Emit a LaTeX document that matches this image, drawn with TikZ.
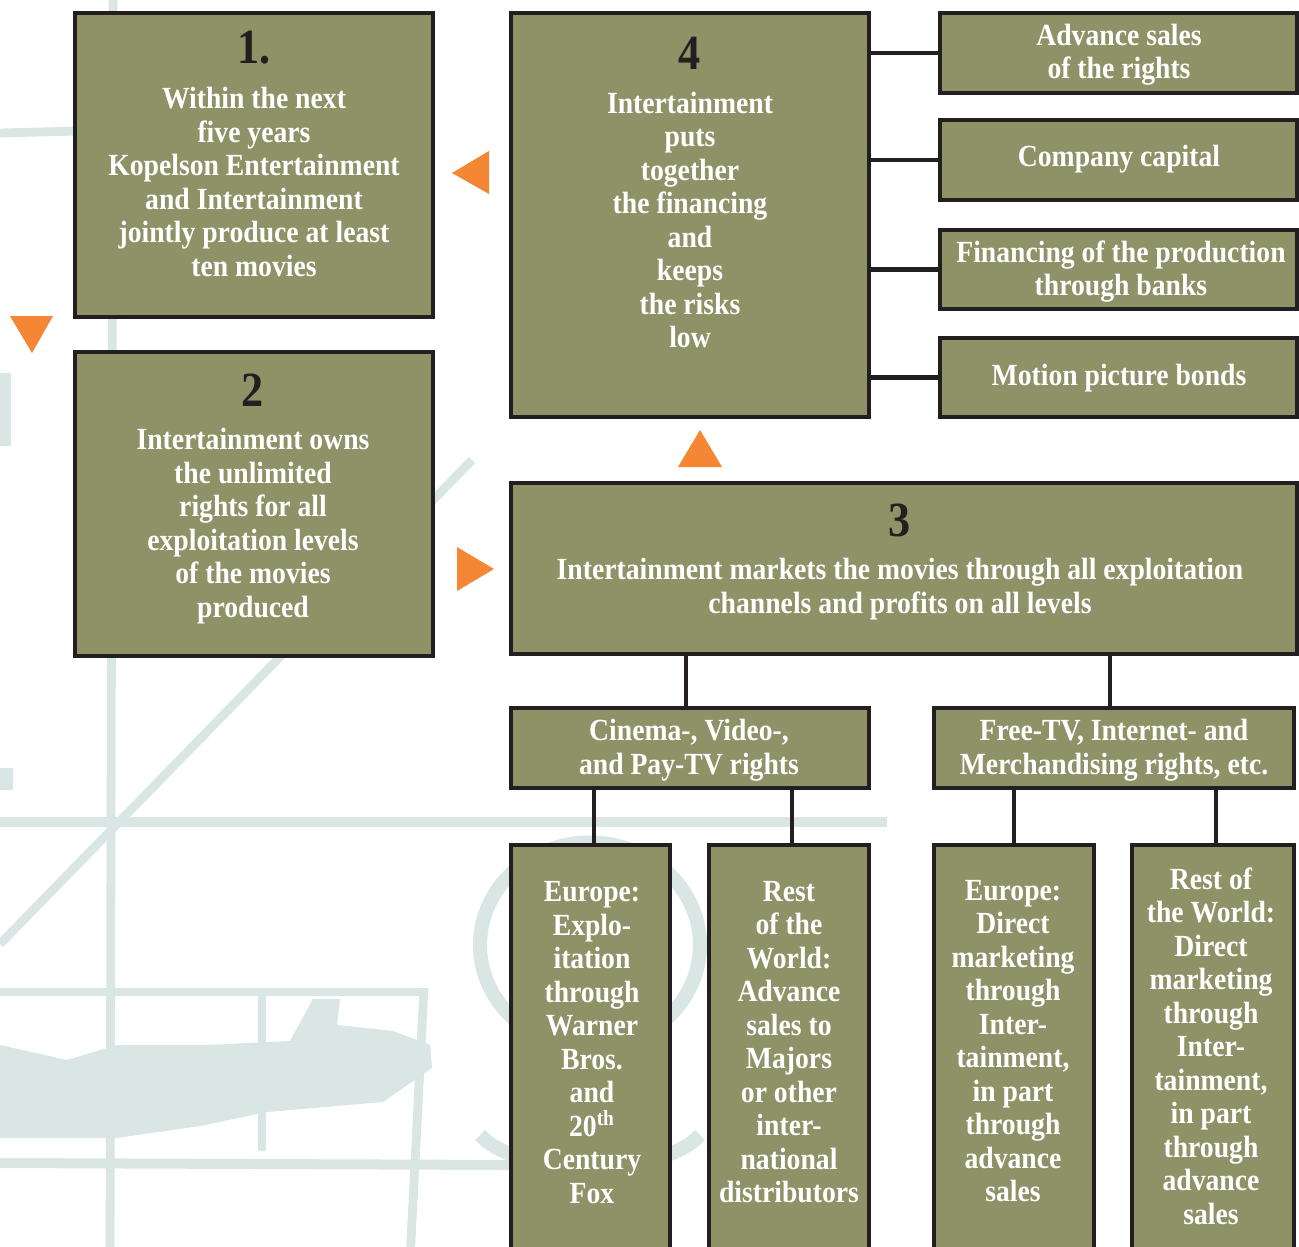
\documentclass[tikz,border=0pt]{standalone}
\usepackage{fontspec}
\setmainfont{Liberation Serif}[FakeStretch=0.9]
\definecolor{boxolive}{HTML}{8D9267}
\definecolor{boxline}{HTML}{231F20}
\definecolor{triorange}{HTML}{F58634}
\definecolor{sketchcol}{HTML}{D9E6E3}
\tikzset{
  box/.style={draw=boxline, fill=boxolive, line width=2.3pt, inner sep=0pt},
  txt/.style={text=white, font=\bfseries\fontsize{17.5}{19.05}\selectfont, align=center, inner sep=0pt},
  num/.style={text=boxline, font=\bfseries\fontsize{28}{28}\selectfont, inner sep=0pt},
  link/.style={draw=boxline, line width=2.4pt},
  tri/.style={fill=triorange, draw=none},
  sketch/.style={draw=sketchcol, line width=5pt},
}
\newcommand\bx[5]{\node[box, minimum width={(#4-#2)*0.02cm}, minimum height={(#5-#3)*0.02cm}] (#1) at ({(#2+#4)/2},{(#3+#5)/2}) {};}
\begin{document}
\begin{tikzpicture}[x=0.02cm, y=-0.02cm]
\useasboundingbox (0,0) rectangle (1299,1247);
\clip (0,0) rectangle (1299,1247);
\fill[white] (0,0) rectangle (1299,1247);
% background sketch
\begin{scope}[sketch]
  \draw (113,-5) -- (110,1260);
  \draw (0,133) -- (80,131);
  \draw[line width=5.7pt] (0,822) -- (887,822);
  \draw (0,944) -- (472,460);
  \draw (0,992) -- (428,992);
  \draw (262,992) -- (262,1151);
  \draw (424,988) -- (410,1260);
  \draw[line width=5.7pt] (0,1163) -- (510,1165);
  \draw[line width=8pt] (590,945) ellipse [x radius=2.2cm, y radius=2.05cm];
  \draw[line width=8pt] (480,1135) .. controls (520,1178) and (660,1178) .. (700,1135);
\end{scope}
\fill[sketchcol] (0,1045) -- (67,1060) -- (117,1045) -- (207,1045) -- (290,1041) -- (313,999) -- (340,999) -- (337,1025) -- (393,1031) -- (430,1045) -- (432,1068) -- (383,1102) -- (267,1112) -- (200,1126) -- (117,1138) -- (0,1138) -- cycle;
\fill[sketchcol] (0,373) rectangle (11,446);
\fill[sketchcol] (0,768) rectangle (13,790);
% boxes
\bx{b1}{75}{13}{433}{317}
\bx{b2}{75}{352}{433}{656}
\bx{b4}{511}{13}{869}{417}
\bx{b3}{511}{483}{1297}{654}
\bx{ra}{940}{13}{1297}{93}
\bx{rb}{940}{120}{1297}{200}
\bx{rc}{940}{230}{1297}{309}
\bx{rd}{940}{338}{1297}{417}
\bx{cin}{511}{708}{869}{788}
\bx{free}{934}{708}{1294}{788}
\bx{e1}{511}{845}{670}{1275}
\bx{e2}{709}{845}{869}{1275}
\bx{e3}{934}{845}{1094}{1275}
\bx{e4}{1132}{845}{1294}{1275}
% connectors
\foreach \r in {ra,rb,rc,rd} \draw[link] (\r.west) -- (\r.west -| b4.east);
\draw[link] ([xshift=-0.08cm]cin.north) -- ([xshift=-0.08cm]cin.north |- b3.south);
\draw[link] ([xshift=-0.08cm]free.north) -- ([xshift=-0.08cm]free.north |- b3.south);
\draw[link] ([xshift=0.07cm]e1.north) -- ([xshift=0.07cm]e1.north |- cin.south);
\draw[link] ([xshift=0.06cm]e2.north) -- ([xshift=0.06cm]e2.north |- cin.south);
\draw[link] (e3.north) -- (e3.north |- free.south);
\draw[link] ([xshift=0.06cm]e4.north) -- ([xshift=0.06cm]e4.north |- free.south);
% triangles
\fill[tri] (452,173) -- (489,151) -- (489,194) -- cycle;
\fill[tri] (10,316) -- (53,316) -- (32,353) -- cycle;
\fill[tri] (700,430) -- (722,467) -- (678,467) -- cycle;
\fill[tri] (457,547) -- (494,569) -- (457,591) -- cycle;
% numbers
\node[num] (n1) at (254,48) {1.};
\node[num] (n2) at (253,390) {2};
\node[num] (n4) at (690,53) {4};
\node[num] (n3) at (900,520) {3};
% texts
\node[txt] (t1) at (254,182) {Within the next\\five years\\Kopelson Entertainment\\and Intertainment\\jointly produce at least\\ten movies};
\node[txt] (t2) at (253,526) {Intertainment owns\\the unlimited\\rights for all\\exploitation levels\\of the movies\\produced};
\node[txt] (t4) at (690,220) {Intertainment\\puts\\together\\the financing\\and\\keeps\\the risks\\low};
\node[txt] (t3) at (900,589) {Intertainment markets the movies through all exploitation\\channels and profits on all levels};
\node[txt] (ta) at (1119,54.5) {Advance sales\\of the rights};
\node[txt] (tb) at (1119,159) {Company capital};
\node[txt] (tc) at (1121,271.5) {Financing of the production\\through banks};
\node[txt] (td) at (1119,378) {Motion picture bonds};
\node[txt] (tcin) at (689,750) {Cinema-, Video-,\\and Pay-TV rights};
\node[txt] (tfree) at (1114,750) {Free-TV, Internet- and\\Merchandising rights, etc.};
\node[txt] (te1) at (592,1042.5) {Europe:\\Explo-\\itation\\through\\Warner\\Bros.\\and\\20\textsuperscript{th}\\Century\\Fox};
\node[txt] (te2) at (789,1042) {Rest\\of the\\World:\\Advance\\sales to\\Majors\\or other\\inter-\\national\\distributors};
\node[txt] (te3) at (1013,1041) {Europe:\\Direct\\marketing\\through\\Inter-\\tainment,\\in part\\through\\advance\\sales};
\node[txt] (te4) at (1211,1046) {Rest of\\the World:\\Direct\\marketing\\through\\Inter-\\tainment,\\in part\\through\\advance\\sales};
\end{tikzpicture}
\end{document}
